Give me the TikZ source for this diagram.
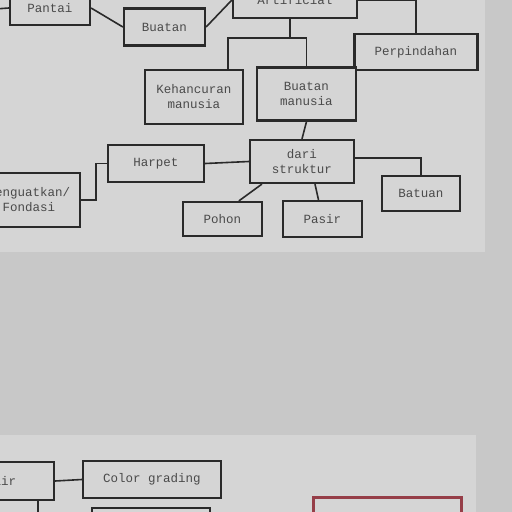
\documentclass[tikz,border=0pt]{standalone}
\usepackage{fontspec}
\setmonofont{Liberation Mono}
\usepackage{tikz,xcolor}
\definecolor{wall}{RGB}{200,200,200}
\definecolor{panel}{RGB}{213,213,213}
\definecolor{ink}{RGB}{42,42,42}
\definecolor{wine}{RGB}{150,62,72}
\tikzstyle{bag} = [draw=ink, line width=2.2pt, fill=panel, text=ink!85, align=center, inner sep=0pt, font=\fontsize{12.5}{15}\selectfont\ttfamily]
\tikzstyle{link} = [draw=ink, line width=1.6pt]

\begin{document}
\begin{tikzpicture}[x=1pt, y=-1pt]
\useasboundingbox (0,0) rectangle (512,512);
\clip (0,0) rectangle (512,512);
\fill[wall] (0,0) rectangle (512,512);
\fill[panel] (-5,-5) rectangle (485,252);
\fill[panel] (-5,435) rectangle (476,520);
% upper chart
\node[bag, minimum width=80pt, minimum height=34pt] (pantai) at (50,8) {Pantai};
\node[bag, minimum width=81pt, minimum height=37pt] (buatan) at (164.5,27) {Buatan};
\node[bag, minimum width=124pt, minimum height=36pt] (artificial) at (295,0) {Artificial};
\node[bag, minimum width=123pt, minimum height=36pt] (perpindahan) at (416,52) {Perpindahan};
\node[bag, minimum width=98pt, minimum height=54pt] (kehancuran) at (194,97) {Kehancuran\\manusia};
\node[bag, minimum width=99pt, minimum height=53pt] (buatanmanusia) at (306.5,94) {Buatan\\manusia};
\node[bag, minimum width=104pt, minimum height=43pt] (dari) at (302,161.5) {dari\\struktur};
\node[bag, minimum width=96pt, minimum height=37pt] (harpet) at (156,163.5) {Harpet};
\node[bag, minimum width=102pt, minimum height=54pt] (penguatkan) at (29,200) {Penguatkan/\\Fondasi};
\node[bag, minimum width=79pt, minimum height=34pt] (pohon) at (222.5,219) {Pohon};
\node[bag, minimum width=79pt, minimum height=36pt] (pasir) at (322.5,219) {Pasir};
\node[bag, minimum width=78pt, minimum height=35pt] (batuan) at (421,193.5) {Batuan};
\coordinate (inlet) at (-5,9);
\coordinate (split) at (290,38);
\draw[link] (inlet) -- (pantai.west);
\draw[link] (pantai.east) -- (buatan.west);
\draw[link] (buatan.east) -- (artificial.west);
\draw[link] (artificial.east) -| (perpindahan.north);
\draw[link] (artificial.south -| split) -- (split);
\draw[link] ([xshift=-16pt]kehancuran.north east) |- (split) -| (buatanmanusia.north);
\draw[link] (buatanmanusia.south) -- (dari.north);
\draw[link] (harpet.east) -- (dari.west);
\draw[link] (harpet.west) -- ++(-11,0) |- (penguatkan.east);
\draw[link] ([xshift=13pt]dari.south west) -- ([xshift=57pt]pohon.north west);
\draw[link] ([xshift=13pt]dari.south) -- ([xshift=-4pt]pasir.north);
\draw[link] ([yshift=3.5pt]dari.east) -| (batuan.north);
% lower chart
\node[bag, minimum width=98pt, minimum height=38pt] (air) at (5,481) {air};
\node[bag, minimum width=138pt, minimum height=37pt] (color) at (152,479.5) {Color grading};
\node[bag, minimum width=118pt, minimum height=30pt] (lower) at (151,523) {};
\node[bag, draw=wine, line width=3pt, minimum width=148pt, minimum height=40pt] (red) at (387,517) {};
\coordinate (drop) at (38,515);
\draw[link] (air.east) -- (color.west);
\draw[link] (air.south -| drop) -- (drop);
\end{tikzpicture}
\end{document}
